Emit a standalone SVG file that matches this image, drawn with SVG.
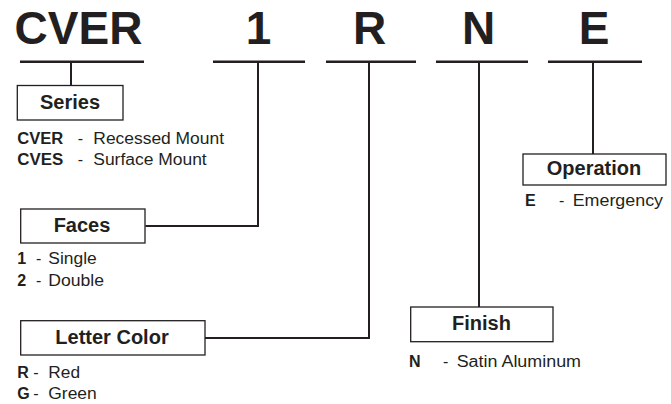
<svg xmlns="http://www.w3.org/2000/svg" width="671" height="404" viewBox="0 0 671 404">
<style>
.t{font-family:"Liberation Sans",Arial,sans-serif;font-weight:bold;font-size:46px;fill:#231f20;text-anchor:middle}
.l{font-family:"Liberation Sans",Arial,sans-serif;font-weight:bold;font-size:20px;fill:#231f20;text-anchor:middle}
.d{font-family:"Liberation Sans",Arial,sans-serif;font-size:16px;fill:#231f20}
.b{font-weight:bold}
.box{fill:#fff;stroke:#231f20;stroke-width:1.3}
.u{stroke:#231f20;stroke-width:2.5;fill:none}
.c{stroke:#231f20;stroke-width:2;fill:none}
</style>
<rect width="671" height="404" fill="#fff"/>
<g id="code">
<text class="t" x="78.5" y="44">CVER</text>
<text class="t" x="258.5" y="44">1</text>
<text class="t" x="369.5" y="44">R</text>
<text class="t" x="478.5" y="44">N</text>
<text class="t" x="594" y="44">E</text>
<line class="u" x1="20" y1="61.7" x2="144" y2="61.7"/>
<line class="u" x1="213" y1="61.7" x2="305" y2="61.7"/>
<line class="u" x1="326" y1="61.7" x2="416" y2="61.7"/>
<line class="u" x1="436" y1="61.7" x2="528" y2="61.7"/>
<line class="u" x1="548" y1="61.7" x2="642" y2="61.7"/>
</g>
<g id="connectors">
<polyline class="c" points="71,62 71,85.5"/>
<polyline class="c" points="258,62 258,226 145.5,226"/>
<polyline class="c" points="369,62 369,338 205,338"/>
<polyline class="c" points="479,62 479,307"/>
<polyline class="c" points="593,62 593,154"/>
</g>
<g id="series">
<rect class="box" x="17.3" y="85.5" width="105.7" height="34.5"/>
<text class="l" x="70" y="109">Series</text>
<text class="d" y="143.5"><tspan class="b" x="17.3" textLength="46" lengthAdjust="spacingAndGlyphs">CVER</tspan><tspan x="77.7">-</tspan><tspan x="93.3" textLength="130.7" lengthAdjust="spacingAndGlyphs">Recessed Mount</tspan></text>
<text class="d" y="164.5"><tspan class="b" x="17.3" textLength="46" lengthAdjust="spacingAndGlyphs">CVES</tspan><tspan x="77.7">-</tspan><tspan x="93.3" textLength="113.4" lengthAdjust="spacingAndGlyphs">Surface Mount</tspan></text>
</g>
<g id="faces">
<rect class="box" x="20.7" y="209" width="124.3" height="34"/>
<text class="l" x="82" y="232">Faces</text>
<text class="d" y="264"><tspan class="b" x="17.3">1</tspan><tspan x="36">-</tspan><tspan x="48.3" textLength="48.4" lengthAdjust="spacingAndGlyphs">Single</tspan></text>
<text class="d" y="286"><tspan class="b" x="17.3">2</tspan><tspan x="36">-</tspan><tspan x="48.3" textLength="55.7" lengthAdjust="spacingAndGlyphs">Double</tspan></text>
</g>
<g id="letter-color">
<rect class="box" x="20.7" y="320.7" width="184.3" height="34.3"/>
<text class="l" x="112" y="344">Letter Color</text>
<text class="d" y="378"><tspan class="b" x="17.3">R</tspan><tspan x="33.3">-</tspan><tspan x="48.3" textLength="31.7" lengthAdjust="spacingAndGlyphs">Red</tspan></text>
<text class="d" y="399"><tspan class="b" x="17.3">G</tspan><tspan x="33.3">-</tspan><tspan x="48.3" textLength="48.4" lengthAdjust="spacingAndGlyphs">Green</tspan></text>
</g>
<g id="finish">
<rect class="box" x="410.7" y="307" width="142.3" height="34.7"/>
<text class="l" x="481.5" y="330">Finish</text>
<text class="d" y="367"><tspan class="b" x="409">N</tspan><tspan x="443">-</tspan><tspan x="456.7" textLength="124.3" lengthAdjust="spacingAndGlyphs">Satin Aluminum</tspan></text>
</g>
<g id="operation">
<rect class="box" x="523" y="154" width="143" height="31"/>
<text class="l" x="594" y="175">Operation</text>
<text class="d" y="205.5"><tspan class="b" x="525">E</tspan><tspan x="559">-</tspan><tspan x="572.7" textLength="90.3" lengthAdjust="spacingAndGlyphs">Emergency</tspan></text>
</g>
</svg>
